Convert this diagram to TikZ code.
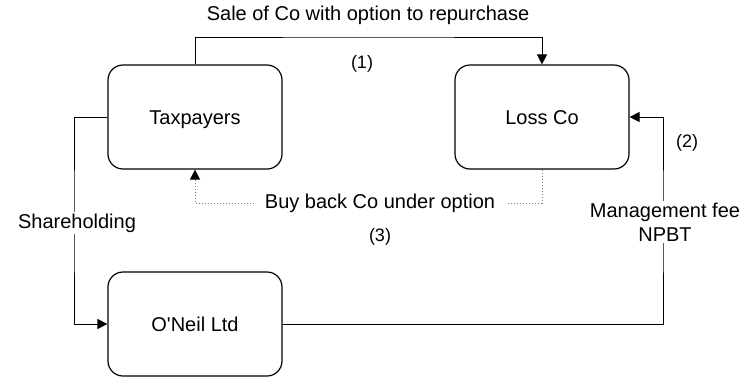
\documentclass[tikz,border=0pt]{standalone}
\usepackage{fontspec}
\setmainfont{Liberation Sans}
\usepackage{tikz}
\usetikzlibrary{positioning,arrows.meta}
\tikzstyle{entity} = [draw, line width=0.6pt, rounded corners=7.5pt, minimum width=87pt, minimum height=52pt, text height=7.2pt, text depth=0pt, font=\fontsize{10}{12}\selectfont]
\tikzstyle{flow} = [line width=0.5pt, -{Triangle[length=5pt,width=5pt]}]
\tikzstyle{optflow} = [gray, densely dotted, line width=0.5pt, -{Triangle[length=5pt,width=5pt,black]}]
\tikzstyle{lbl} = [font=\fontsize{10}{12}\selectfont]
\tikzstyle{num} = [font=\fontsize{9}{11}\selectfont]

\begin{document}
\begin{tikzpicture}[x=0.5pt,y=-0.5pt]
			\useasboundingbox (0,0) rectangle (745,377);
			\node[entity] (tax) at (195,117) {Taxpayers};
			\node[entity] (loss) at (542,117) {Loss Co};
			\node[entity] (oneil) at (195,324) {O\textquotesingle Neil Ltd};
			\coordinate (saleline) at (368,37);
			\coordinate (feeline) at (663,222);
			\coordinate (shareline) at (74,222);
			\coordinate (buyline) at (378,203);
			\draw[flow] (tax.north) |- (saleline) -| (loss.north);
			\draw[flow] (oneil.east) -| (feeline) |- (loss.east);
			\draw[flow] (tax.west) -| (shareline) |- (oneil.west);
			\draw[optflow] (loss.south) |- (buyline) -| (tax.south);
			\node[lbl] (sale) at (368,15) {Sale of Co with option to repurchase};
			\node[num] at (362,64) {(1)};
			\node[lbl, fill=white, align=center, inner sep=1pt] (fee) at (665,222) {Management fee\\NPBT};
			\node[num] at (687,143) {(2)};
			\node[lbl, fill=white, inner xsep=0pt, inner ysep=1pt] (share) at (77,223) {Shareholding};
			\node[lbl, fill=white, inner xsep=5.5pt, inner ysep=1pt] (buy) at (380,203) {Buy back Co under option};
			\node[num] at (380,237) {(3)};
		\end{tikzpicture}
\end{document}
